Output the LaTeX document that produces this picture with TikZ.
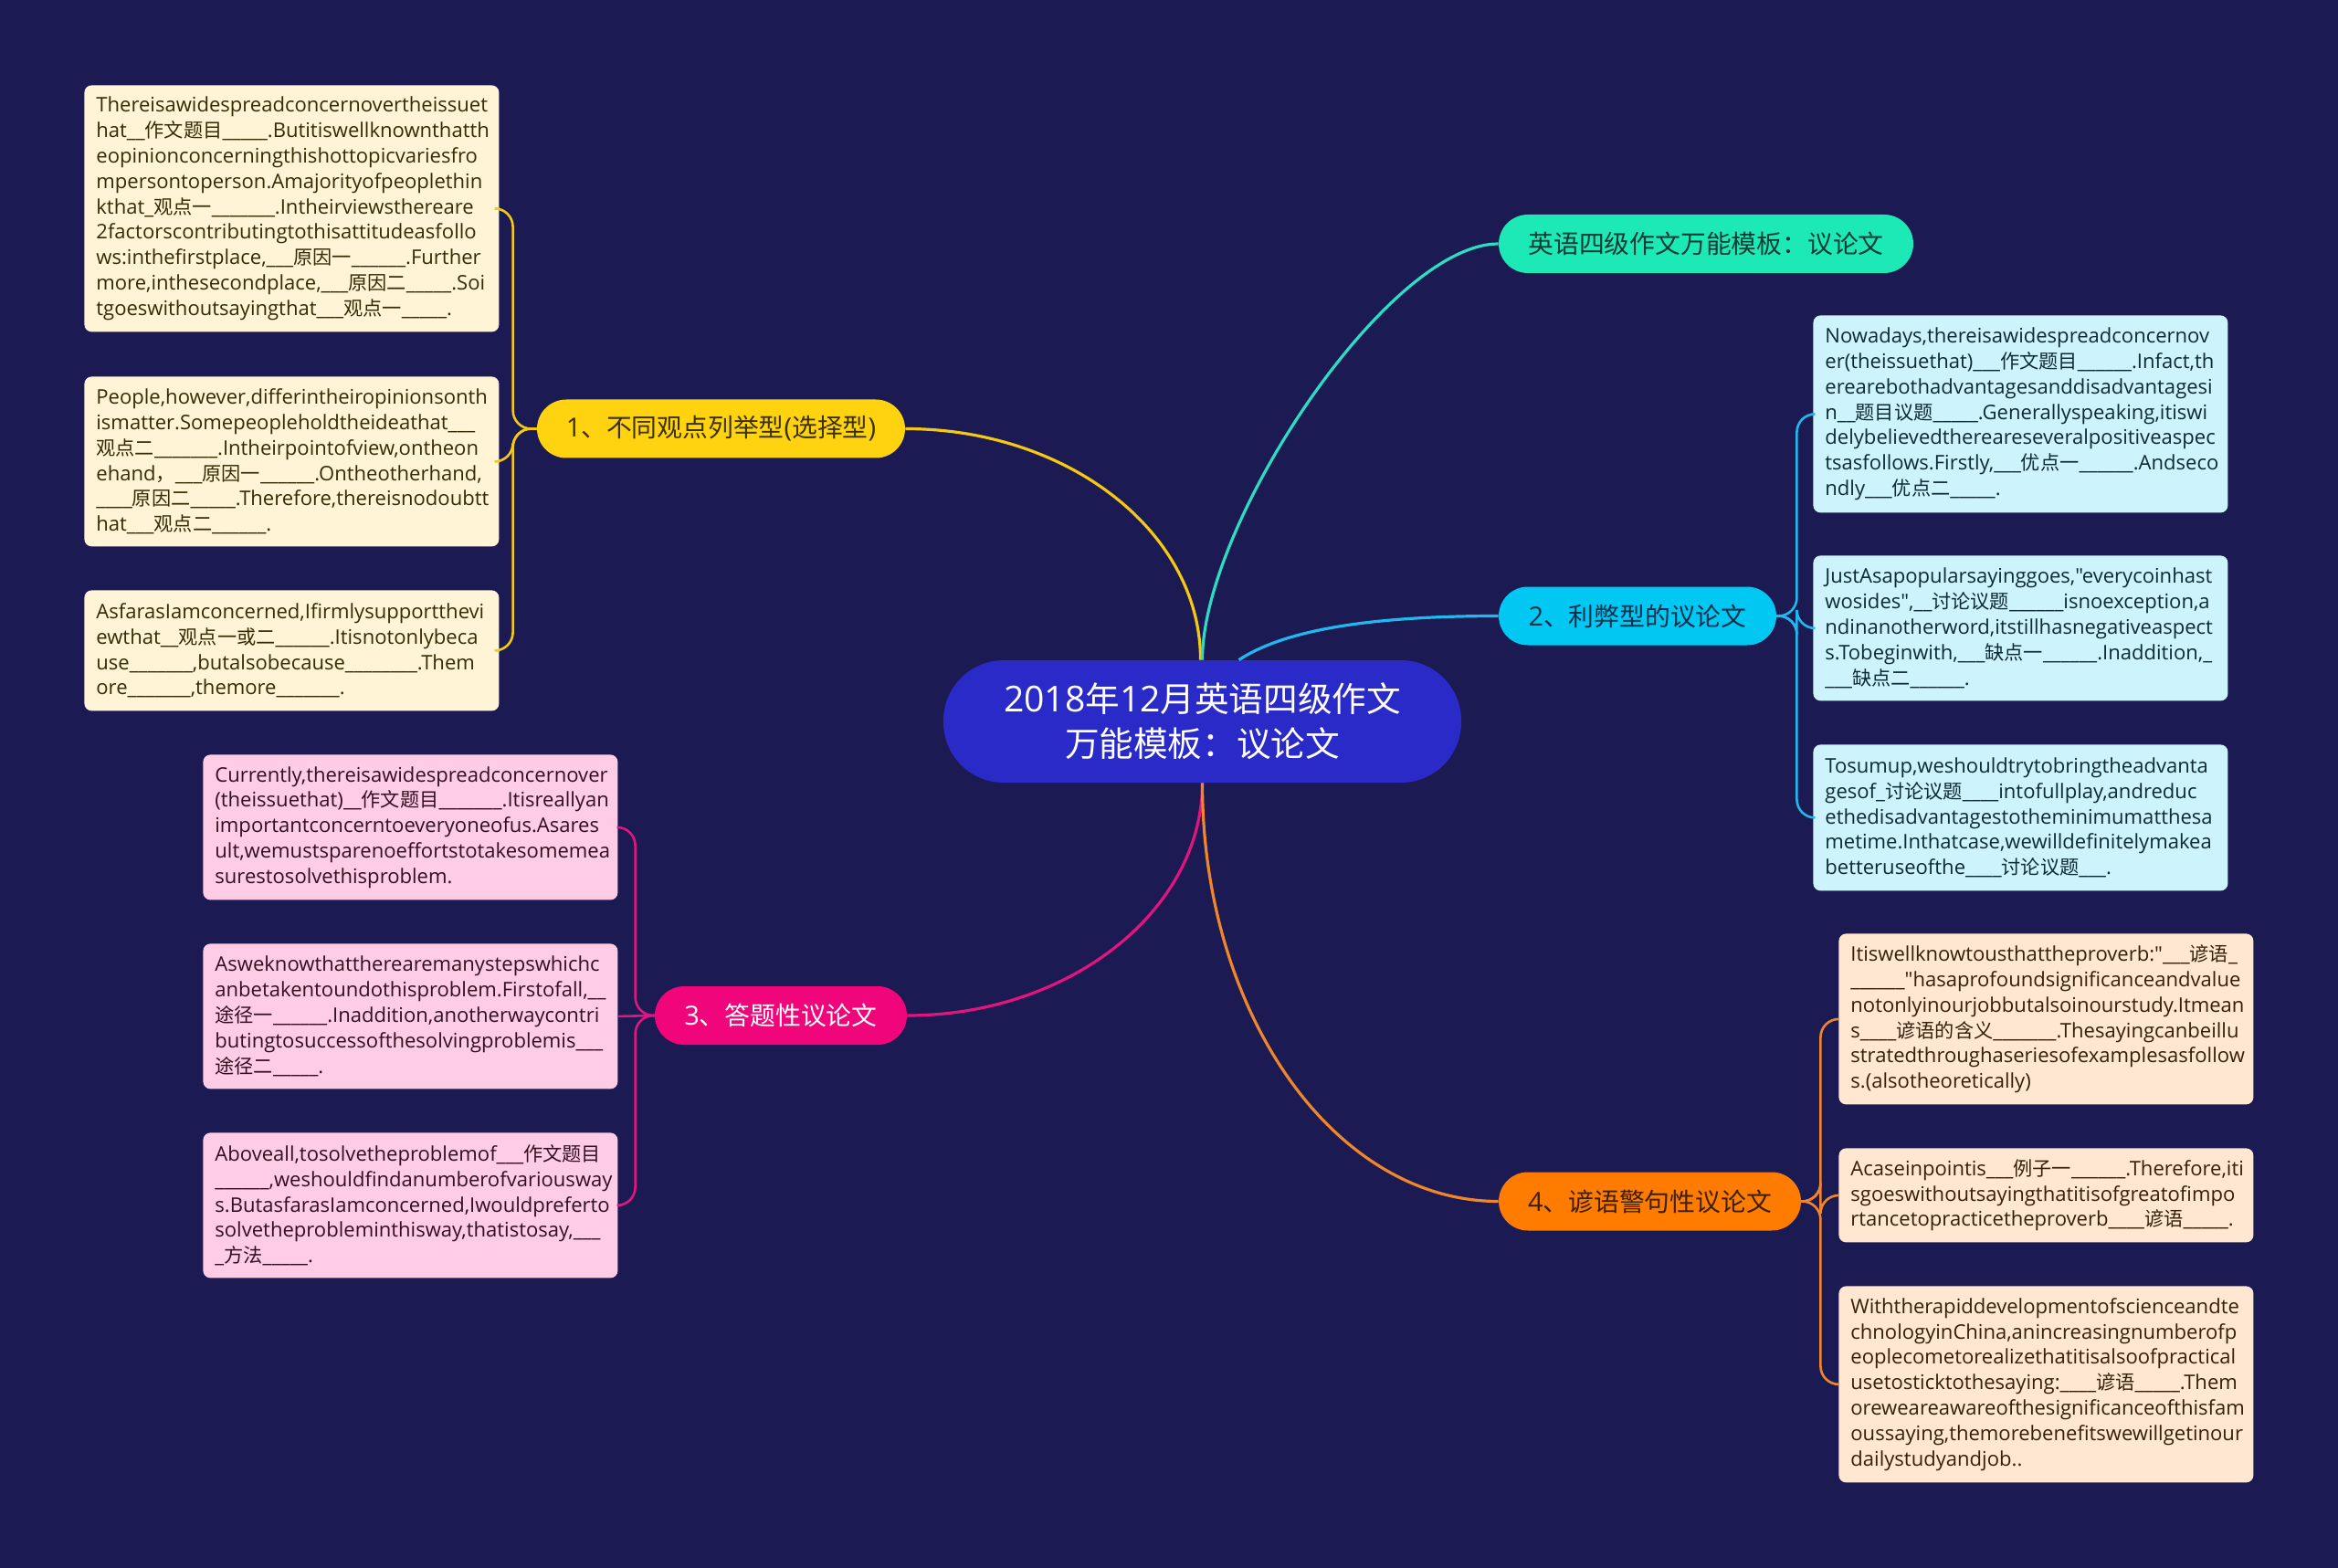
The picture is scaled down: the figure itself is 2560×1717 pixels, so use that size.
\documentclass[tikz,border=0pt]{standalone}
\usepackage{fontspec}
\setmainfont{Open Sans}[Scale=1.04, Ligatures=TeXOff]
\newfontfamily\cjkfont{Noto Sans CJK SC}
\usetikzlibrary{calc}
% automatic switch to the CJK font for CJK characters
\newXeTeXintercharclass\cjkcls
\newcount\cjkn
\def\setcjkrange#1#2{\cjkn=#1\relax\loop\XeTeXcharclass\cjkn=\cjkcls\relax\ifnum\cjkn<#2\relax\advance\cjkn by 1\relax\repeat}
\setcjkrange{"3000}{"303F}
\setcjkrange{"4E00}{"9FFF}
\setcjkrange{"FF00}{"FFEF}
\XeTeXinterchartoks 0 \cjkcls = {\cjkfont}
\XeTeXinterchartoks 4095 \cjkcls = {\cjkfont}
\XeTeXinterchartoks \cjkcls 0 = {\rmfamily}
\XeTeXinterchartoks 4095 0 = {\rmfamily}
\XeTeXinterchartokenstate=1
\definecolor{bg}{HTML}{1B1A52}
\definecolor{rootc}{HTML}{2A2AC8}
\definecolor{tealc}{HTML}{1DE9B6}
\definecolor{tealt}{HTML}{0E3B33}
\definecolor{tealline}{HTML}{2EDCC4}
\definecolor{yelc}{HTML}{FFD30F}
\definecolor{yelt}{HTML}{3A3000}
\definecolor{yelline}{HTML}{F5C814}
\definecolor{cyanc}{HTML}{00C8F2}
\definecolor{cyant}{HTML}{0B2F4A}
\definecolor{cyanline}{HTML}{22B8EE}
\definecolor{pinkc}{HTML}{F0067A}
\definecolor{pinkline}{HTML}{E0157F}
\definecolor{orc}{HTML}{FF7C00}
\definecolor{ort}{HTML}{3A1F00}
\definecolor{orline}{HTML}{F0862C}
\definecolor{yelbox}{HTML}{FFF5D6}
\definecolor{pinkbox}{HTML}{FFCCE5}
\definecolor{bluebox}{HTML}{CDF3FD}
\definecolor{orbox}{HTML}{FFE7D1}
\definecolor{yelboxt}{HTML}{352C05}
\definecolor{pinkboxt}{HTML}{33101F}
\definecolor{blueboxt}{HTML}{0D2A38}
\definecolor{orboxt}{HTML}{35200C}
\begin{document}
\catcode`\_=12
\begin{tikzpicture}[x=0.5pt,y=-0.5pt,
  root/.style={fill=rootc, text=white, rounded corners=33pt, minimum width=283.5pt, minimum height=67pt, inner sep=0pt, align=center, font=\fontsize{18.8}{24.5}\selectfont},
  branch/.style={rounded corners=16pt, minimum height=32pt, inner sep=0pt, font=\fontsize{13.9}{16}\selectfont},
  leaf/.style={rounded corners=4pt, text width=214pt, inner xsep=6.5pt, inner ysep=2pt, align=left, anchor=north west, font=\fontsize{10.6}{13.9}\selectfont},
  link/.style={line width=1.6pt},
  sub/.style={line width=1.3pt, rounded corners=10pt},
  ybox/.style={leaf, fill=yelbox, text=yelboxt},
  pbox/.style={leaf, fill=pinkbox, text=pinkboxt},
  bbox/.style={leaf, fill=bluebox, text=blueboxt},
  obox/.style={leaf, fill=orbox, text=orboxt},
]
\fill[bg] (0,0) rectangle (2560,1717);
\useasboundingbox (0,0) rectangle (2560,1717);

% main nodes
\node[root] (C) at (1316.5,790) {2018年12月英语四级作文\\万能模板：议论文};
\node[branch, fill=tealc, text=tealt, minimum width=227pt] (T) at (1868,267) {英语四级作文万能模板：议论文};
\node[branch, fill=yelc, text=yelt, minimum width=201.5pt] (N1) at (789.5,469.5) {1、不同观点列举型(选择型)};
\node[branch, fill=cyanc, text=cyant, minimum width=152pt] (N2) at (1793,674.5) {2、利弊型的议论文};
\node[branch, fill=pinkc, text=white, minimum width=138pt] (N3) at (855,1112) {3、答题性议论文};
\node[branch, fill=orc, text=ort, minimum width=165.5pt] (N4) at (1806.5,1315.5) {4、谚语警句性议论文};

% leaf boxes
\node[ybox, minimum height=135pt] (Y1) at (92,93) {Thereisawidespreadconcernovertheissuet\\hat__作文题目_____.Butitiswellknownthatth\\eopinionconcerningthishottopicvariesfro\\mpersontoperson.Amajorityofpeoplethin\\kthat_观点一_______.Intheirviewsthereare\\2factorscontributingtothisattitudeasfollo\\ws:inthefirstplace,___原因一______.Further\\more,inthesecondplace,___原因二_____.Soi\\tgoeswithoutsayingthat___观点一_____.};
\node[ybox, minimum height=93pt] (Y2) at (92,412) {People,however,differintheiropinionsonth\\ismatter.Somepeopleholdtheideathat___\\观点二_______.Intheirpointofview,ontheon\\ehand，___原因一______.Ontheotherhand,\\____原因二_____.Therefore,thereisnodoubtt\\hat___观点二______.};
\node[ybox, minimum height=66pt] (Y3) at (92,646) {AsfarasIamconcerned,Ifirmlysupportthevi\\ewthat__观点一或二______.Itisnotonlybeca\\use_______,butalsobecause________.Them\\ore_______,themore_______.};

\node[pbox, minimum height=79.5pt] (P1) at (222,826) {Currently,thereisawidespreadconcernover\\(theissuethat)__作文题目_______.Itisreallyan\\importantconcerntoeveryoneofus.Asares\\ult,wemustsparenoeffortstotakesomemea\\surestosolvethisproblem.};
\node[pbox, minimum height=79.5pt] (P2) at (222,1033) {Asweknowthattherearemanystepswhichc\\anbetakentoundothisproblem.Firstofall,__\\途径一______.Inaddition,anotherwaycontri\\butingtosuccessofthesolvingproblemis___\\途径二_____.};
\node[pbox, minimum height=79.5pt] (P3) at (222,1240) {Aboveall,tosolvetheproblemof___作文题目\\______,weshouldfindanumberofvariousway\\s.ButasfarasIamconcerned,Iwouldpreferto\\solvetheprobleminthisway,thatistosay,___\\_方法_____.};

\node[bbox, minimum height=108pt] (B1) at (1985,345) {Nowadays,thereisawidespreadconcernov\\er(theissuethat)___作文题目______.Infact,th\\erearebothadvantagesanddisadvantagesi\\n__题目议题_____.Generallyspeaking,itiswi\\delybelievedthereareseveralpositiveaspec\\tsasfollows.Firstly,___优点一______.Andseco\\ndly___优点二_____.};
\node[bbox, minimum height=79.5pt] (B2) at (1985,608) {JustAsapopularsayinggoes,"everycoinhast\\wosides",__讨论议题______isnoexception,a\\ndinanotherword,itstillhasnegativeaspect\\s.Tobeginwith,___缺点一______.Inaddition,_\\___缺点二______.};
\node[bbox, minimum height=80pt] (B3) at (1985,815) {Tosumup,weshouldtrytobringtheadvanta\\gesof_讨论议题____intofullplay,andreduc\\ethedisadvantagestotheminimumatthesa\\metime.Inthatcase,wewilldefinitelymakea\\betteruseofthe____讨论议题___.};

\node[obox, minimum height=93.5pt] (O1) at (2013,1022) {Itiswellknowtousthattheproverb:"___谚语_\\______"hasaprofoundsignificanceandvalue\\notonlyinourjobbutalsoinourstudy.Itmean\\s____谚语的含义_______.Thesayingcanbeillu\\stratedthroughaseriesofexamplesasfollow\\s.(alsotheoretically)};
\node[obox, minimum height=51.5pt] (O2) at (2013,1257) {Acaseinpointis___例子一______.Therefore,iti\\sgoeswithoutsayingthatitisofgreatofimpo\\rtancetopracticetheproverb____谚语_____.};
\node[obox, minimum height=107.5pt] (O3) at (2013,1408) {Withtherapiddevelopmentofscienceandte\\chnologyinChina,anincreasingnumberofp\\eoplecometorealizethatitisalsoofpractical\\usetosticktothesaying:____谚语_____.Them\\oreweareawareofthesignificanceofthisfam\\oussaying,themorebenefitswewillgetinour\\dailystudyandjob..};

% main connectors
\draw[link, yelline] ($(C.north)+(-2,0)$) .. controls ($(C.north)+(-2,-140)$) and ($(N1.east)+(178,0)$) .. (N1.east);
\draw[link, tealline] (C.north) .. controls ($(C.north)+(0,-150)$) and ($(T.west)+(-120,0)$) .. (T.west);
\draw[link, cyanline] ($(C.north)+(40,0)$) .. controls ($(C.north)+(83,-28)$) and ($(N2.west)+(-161,0)$) .. (N2.west);
\draw[link, pinkline] (C.south) .. controls ($(C.south)+(0,139)$) and ($(N3.east)+(178,0)$) .. (N3.east);
\draw[link, orline] (C.south) .. controls ($(C.south)+(0,253)$) and ($(N4.west)+(-179,0)$) .. (N4.west);

% sub connectors
\coordinate (J1) at ($(N1.west)+(-26,0)$);
\draw[sub, yelline] (N1.west) -- (J1) |- (Y1.east);
\draw[sub, yelline] (N1.west) -- (J1) |- (Y2.east);
\draw[sub, yelline] (N1.west) -- (J1) |- (Y3.east);

\coordinate (J3) at ($(N3.west)+(-21,0)$);
\draw[sub, pinkline] (N3.west) -- (J3) |- (P1.east);
\draw[sub, pinkline] (N3.west) -- (P2.east);
\draw[sub, pinkline] (N3.west) -- (J3) |- (P3.east);

\coordinate (J2) at ($(N2.east)+(22,0)$);
\draw[sub, cyanline] (N2.east) -- (J2) |- (B1.west);
\draw[sub, cyanline] (N2.east) -- (J2) |- (B2.west);
\draw[sub, cyanline] (N2.east) -- (J2) |- (B3.west);

\coordinate (J4) at ($(N4.east)+(21,0)$);
\draw[sub, orline] (N4.east) -- (J4) |- (O1.west);
\draw[sub, orline] (N4.east) -- (J4) |- (O2.west);
\draw[sub, orline] (N4.east) -- (J4) |- (O3.west);
\end{tikzpicture}
\end{document}
